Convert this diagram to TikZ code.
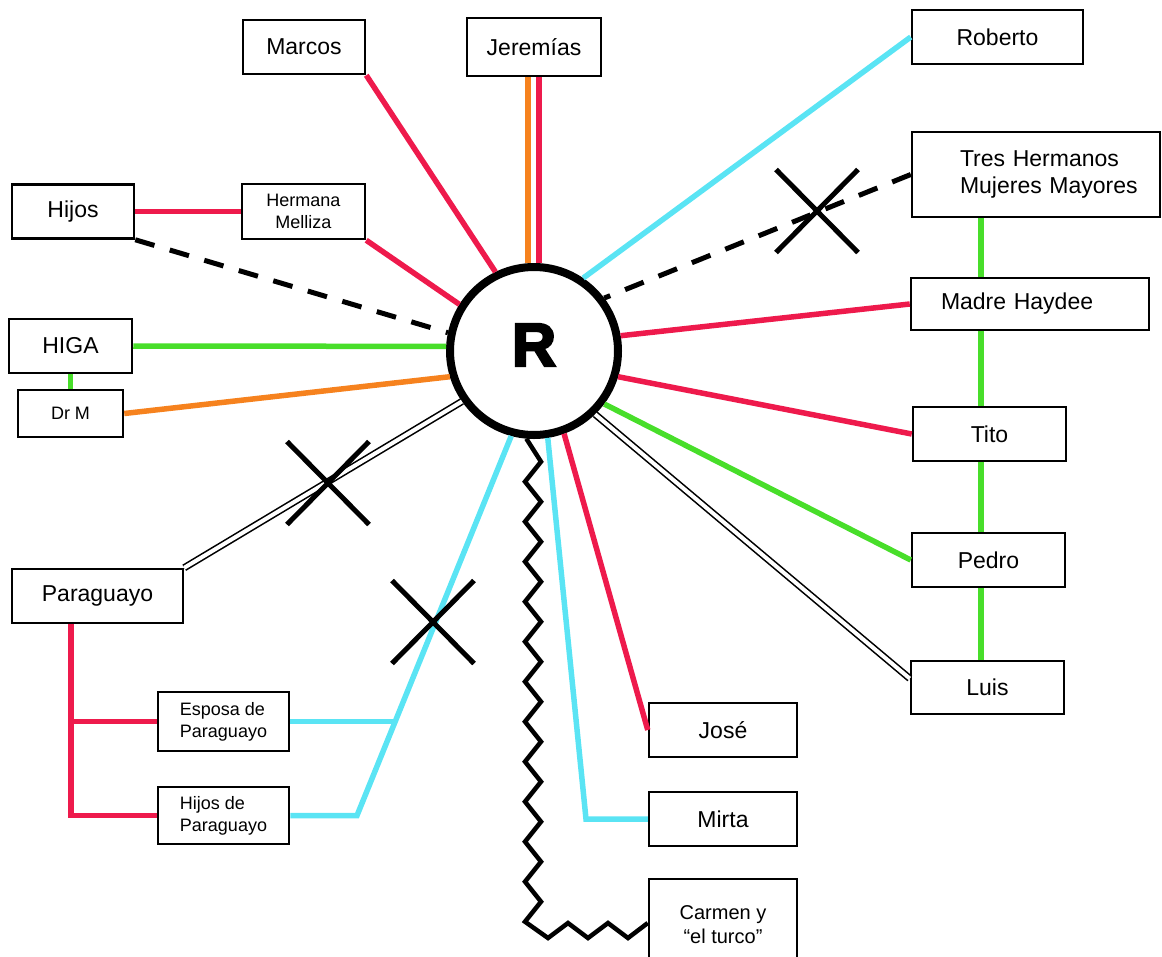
\documentclass[tikz,border=0pt]{standalone}
\usepackage{fontspec}
\setmainfont{Liberation Sans}
\newfontfamily\heavyfont[FakeBold=4]{Liberation Sans Bold}
\usetikzlibrary{shapes.misc,calc}
\definecolor{cred}{RGB}{238,26,76}
\definecolor{corange}{RGB}{246,130,30}
\definecolor{ccyan}{RGB}{90,228,244}
\definecolor{cgreen}{RGB}{72,222,42}
\begin{document}
\begin{tikzpicture}[x=1pt,y=-1pt,
  box/.style={draw, line width=2.5pt, inner sep=0pt, font=\fontsize{23}{27}\selectfont, align=center},
  smallbox/.style={box, font=\fontsize{18}{22}\selectfont},
  midbox/.style={box, font=\fontsize{20}{24}\selectfont},
  link/.style={line width=5.5pt},
  redl/.style={link, draw=cred},
  orangel/.style={link, draw=corange},
  cyanl/.style={link, draw=ccyan},
  greenl/.style={link, draw=cgreen},
  dashedl/.style={draw=black, line width=5pt, dash pattern=on 20pt off 16pt},
  dbl/.style={draw=black, double=white, line width=1.6pt, double distance=4pt},
  crossmark/.style={draw=black, cross out, line width=5pt, minimum width=82pt, minimum height=83pt, inner sep=0pt, outer sep=0pt},
  zzline/.style={draw=black, line width=4.5pt, line join=miter}
]
\useasboundingbox (0,0) rectangle (1162,956);
\clip (0,0) rectangle (1162,956);

% central circle
\node[circle, draw, line width=8pt, minimum size=168pt, inner sep=0pt, fill=white,
      font=\heavyfont\fontsize{61}{61}\selectfont, text depth=12pt] (R) at (534,351) {R};

% top
\node[box, minimum width=122pt, minimum height=54pt] (marcos) at (304,47) {Marcos};
\node[box, minimum width=134pt, minimum height=58pt] (jer) at (534,47) {Jeremías};
% right
\node[box, minimum width=171pt, minimum height=54pt] (rob) at (997.5,37) {Roberto};
\node[box, minimum height=85pt, text width=152pt, inner xsep=48pt, align=left] (th) at (1036,174.5) {\mbox{Tres Hermanos}\\\mbox{Mujeres Mayores}};
\node[box, minimum height=52pt, text width=178pt, inner xsep=30pt, align=left] (madre) at (1030,304) {Madre Haydee};
\node[box, minimum width=153pt, minimum height=54pt] (tito) at (989.5,434) {Tito};
\node[box, minimum width=153pt, minimum height=54pt] (pedro) at (988.5,560) {Pedro};
\node[box, minimum width=153pt, minimum height=53pt] (luis) at (987.5,687.5) {Luis};
% bottom
\node[box, minimum width=148pt, minimum height=54pt] (jose) at (723,730) {José};
\node[box, minimum width=148pt, minimum height=54pt] (mirta) at (723,819) {Mirta};
\node[midbox, minimum width=148pt, minimum height=92pt] (carmen) at (723,925) {Carmen y\\“el turco”};
% left
\node[box, minimum width=122pt, minimum height=54pt] (hijos) at (73,211.5) {Hijos};
\node[smallbox, minimum width=123pt, minimum height=55pt] (hm) at (303.5,211.5) {Hermana\\Melliza};
\node[box, minimum width=123pt, minimum height=54pt] (higa) at (70.5,346) {HIGA};
\node[smallbox, minimum width=105pt, minimum height=47pt] (drm) at (70.5,413.5) {Dr M};
\node[box, minimum width=171pt, minimum height=54pt] (para) at (97.5,596) {Paraguayo};
\node[smallbox, align=left, minimum width=131pt, minimum height=59pt] (esp) at (223.5,721.5) {Esposa de\\Paraguayo};
\node[smallbox, align=left, minimum width=131pt, minimum height=57pt] (hdp) at (223.5,815.5) {Hijos de\\Paraguayo};

% helper coordinates
\coordinate (mb) at (586,819);
\coordinate (bend) at (357,815.5);
\coordinate (ej) at (395,721.5);
\coordinate (rx) at (71,0);
\coordinate (gx) at (981,0);

% connectors to R
\draw[redl] (marcos.south east) -- (R.116);
\draw[orangel] ([xshift=-6pt]jer.south) -- ([xshift=-6pt]R.north);
\draw[redl] ([xshift=5pt]jer.south) -- ([xshift=5pt]R.north);
\draw[cyanl] (rob.west) -- (R.56);
\draw[dashedl] (th.west) -- (R.37);
\draw[redl] (madre.west) -- (R.10);
\draw[redl] (tito.west) -- (R.-17);
\draw[greenl] (pedro.west) -- (R.-37);
\draw[dbl] ([yshift=9pt]luis.west) -- (R.-46);
\draw[redl] (jose.west) -- (R.-70);
\draw[cyanl] (mirta.west) -- (mb) -- (R.-81);
\draw[zzline] (R.-95)
  \foreach \k in {0,...,11} { -- (541,{461.7+40*\k}) -- (525,{481.7+40*\k}) }
  -- (548,938) -- (568,923) -- (588,938) -- (608,923) -- (628,938)
  -- ([yshift=2pt]carmen.west);
\draw[cyanl] (R.255) -- (bend) -- (hdp.east);
\draw[cyanl] (esp.east) -- (ej);
\draw[dbl] (para.north east) -- (R.215);
\draw[orangel] (drm.east) -- (R.197);
\draw[greenl] (higa.east) -- (R.177);
\draw[dashedl] (hijos.south east) -- (R.168);
\draw[redl] (hm.south east) -- (R.148);

% other connectors
\draw[redl] (hijos.east) -- (hm.west);
\draw[greenl] (higa.south) -- (drm.north);
\draw[redl] (para.south -| rx) -- (rx |- hdp.west) -- (hdp.west);
\draw[redl] (rx |- esp.west) -- (esp.west);
\draw[greenl] (th.south -| gx) -- (madre.north -| gx);
\draw[greenl] (madre.south -| gx) -- (tito.north -| gx);
\draw[greenl] (tito.south -| gx) -- (pedro.north -| gx);
\draw[greenl] (pedro.south -| gx) -- (luis.north -| gx);

% cross marks
\node[crossmark] (x1) at (328,483) {};
\node[crossmark] (x2) at (433,622) {};
\node[crossmark] (x3) at (817,211) {};
\end{tikzpicture}
\end{document}
